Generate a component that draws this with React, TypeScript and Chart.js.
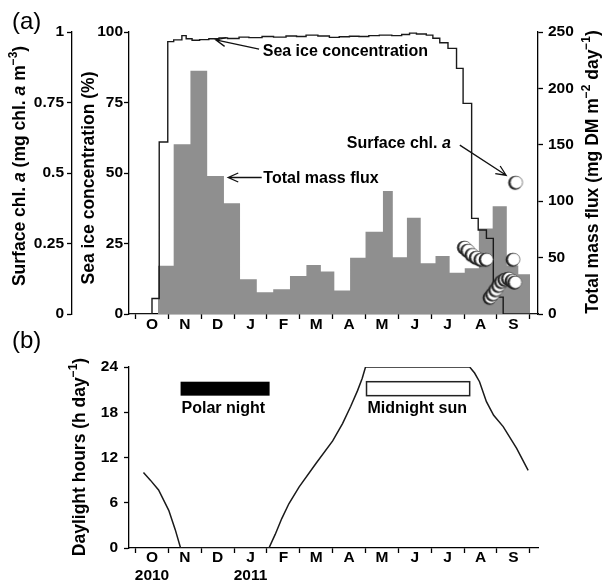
import React, { useEffect, useRef } from 'react';
import { Chart, registerables } from 'chart.js';
Chart.register(...registerables);

const FONT = '"Liberation Sans", Arial, Helvetica, sans-serif';

// x unit: months since 1 Oct 2010
const monthLabels = ['O', 'N', 'D', 'J', 'F', 'M', 'A', 'M', 'J', 'J', 'A', 'S'];
const yearLabels = ['2010', '', '', '2011', '', '', '', '', '', '', '', ''];

// Sediment trap bins (edges) and total mass flux (mg DM m-2 day-1)
const fluxBinEdges = [0.68, 1.16, 1.67, 2.18, 2.69, 3.18, 3.69, 4.19, 4.70, 5.20, 5.64, 6.05, 6.53, 7.00, 7.53, 7.83, 8.26, 8.68, 9.13, 9.56, 10.02, 10.45, 10.87, 11.30, 11.65, 12.01];
const totalMassFlux = [42.8, 150.4, 215.7, 122.3, 98.1, 30.8, 19.2, 21.9, 33.7, 43.4, 37.7, 20.8, 49.9, 73, 109, 50.3, 85.4, 44.9, 51.4, 36.6, 40.5, 75.8, 95.5, 43, 35.2];

// Sea ice concentration (%) step changes
const seaIceStepStart = [-0.2, 0.50, 0.72, 0.98, 1.16, 1.41, 1.54, 1.72, 1.95, 2.23, 2.54, 2.80, 3.15, 3.45, 3.85, 4.20, 4.58, 4.90, 5.19, 5.55, 5.90, 6.20, 6.51, 6.80, 7.10, 7.42, 7.80, 8.10, 8.34, 8.55, 8.85, 9.05, 9.26, 9.51, 9.77, 9.97, 10.23, 10.43, 10.68, 10.89, 11.19];
const seaIceConc = [0, 5.5, 61, 96.6, 97.2, 98.7, 97.6, 97.1, 97.3, 97.6, 97.9, 97.7, 98.2, 98.0, 98.4, 98.2, 98.6, 98.4, 98.9, 98.6, 98.1, 98.3, 98.5, 98.4, 98.7, 98.9, 98.7, 99.1, 99.6, 99.3, 98.9, 97.8, 96.2, 94.2, 87.1, 74.7, 33.9, 29.8, 26.8, 6, 0];
const seaIceEnd = 12.25;

// Surface chlorophyll a (mg chl. a m-3)
const chlMonth = [10.02, 10.12, 10.25, 10.38, 10.52, 10.68, 10.80, 10.88, 10.97, 11.06, 11.15, 11.25, 11.36, 11.47, 11.55, 11.50, 11.58];
const chlValue = [0.236, 0.225, 0.21, 0.2, 0.193, 0.193, 0.058, 0.07, 0.085, 0.1, 0.114, 0.122, 0.126, 0.118, 0.112, 0.193, 0.466];

// Daylight hours (h day-1)
const daylightMonth = [0.24, 0.45, 0.70, 1.01, 1.21, 1.37, 4.06, 4.25, 4.45, 4.67, 4.98, 5.49, 6.00, 6.30, 6.55, 6.76, 6.90, 7.00, 10.17, 10.32, 10.47, 10.68, 10.90, 11.19, 11.60, 11.95];
const daylightHours = [10.0, 9.0, 7.7, 5.0, 2.4, 0, 0, 1.8, 3.9, 5.9, 8.1, 11.2, 14.2, 16.5, 18.8, 20.9, 22.5, 24, 24, 23.2, 22.05, 19.4, 17.6, 16.1, 13.2, 10.3];

// Polar night / midnight sun periods (months) and bar band (hours)
const polarNight = [1.37, 4.08];
const midnightSun = [7.03, 10.17];
const periodBand = [20.2, 22.05];

const X_MIN = -0.2;
const X_MAX = 12.25;

type Seg = { t: string; italic?: boolean; sup?: boolean };

function drawRich(ctx: CanvasRenderingContext2D, segs: Seg[], x: number, y: number, size: number, rotate: boolean, align: 'center' | 'left' = 'center') {
  ctx.save();
  ctx.translate(x, y);
  if (rotate) ctx.rotate(-Math.PI / 2);
  const fontFor = (s: Seg) => `${s.italic ? 'italic ' : ''}bold ${s.sup ? size * 0.68 : size}px ${FONT}`;
  let total = 0;
  for (const s of segs) { ctx.font = fontFor(s); total += ctx.measureText(s.t).width; }
  let cx = align === 'center' ? -total / 2 : 0;
  ctx.textBaseline = 'middle';
  ctx.textAlign = 'left';
  ctx.fillStyle = '#000';
  for (const s of segs) {
    ctx.font = fontFor(s);
    ctx.fillText(s.t, cx, s.sup ? -size * 0.36 : 0);
    cx += ctx.measureText(s.t).width;
  }
  ctx.restore();
}

function arrow(ctx: CanvasRenderingContext2D, x1: number, y1: number, x2: number, y2: number) {
  ctx.save();
  ctx.strokeStyle = '#111';
  ctx.lineWidth = 1.3;
  ctx.beginPath();
  ctx.moveTo(x1, y1);
  ctx.lineTo(x2, y2);
  const a = Math.atan2(y2 - y1, x2 - x1);
  const L = 11, w = 0.42;
  ctx.moveTo(x2 - L * Math.cos(a - w), y2 - L * Math.sin(a - w));
  ctx.lineTo(x2, y2);
  ctx.lineTo(x2 - L * Math.cos(a + w), y2 - L * Math.sin(a + w));
  ctx.stroke();
  ctx.restore();
}

function makeBall(r: number) {
  const c = document.createElement('canvas');
  const s = Math.ceil(2 * r + 5);
  c.width = s; c.height = s;
  const g = c.getContext('2d')!;
  g.beginPath();
  g.arc(s / 2 - 0.8, s / 2 + 0.3, r, 0, Math.PI * 2);
  g.fillStyle = '#222';
  g.fill();
  g.beginPath();
  g.arc(s / 2 + 0.5, s / 2 - 0.2, r - 0.9, 0, Math.PI * 2);
  g.fillStyle = '#fff';
  g.fill();
  g.lineWidth = 0.7;
  g.strokeStyle = '#555';
  g.stroke();
  return c;
}

const xTickValues: number[] = [];
for (let i = 0; i <= monthLabels.length; i++) {
  xTickValues.push(i);
  if (i < monthLabels.length) xTickValues.push(i + 0.5);
}

export default function App() {
  const refA = useRef<HTMLCanvasElement>(null);
  const refB = useRef<HTMLCanvasElement>(null);

  useEffect(() => {
    Chart.defaults.color = '#000';
    Chart.defaults.font.family = FONT;
    const ball = makeBall(7);
    const tickFont = { family: FONT, size: 15.5, weight: 'bold' as const, lineHeight: 1.15 };
    const border = { display: true, color: '#000', width: 1.3 };

    const makeX = (height: number, withYears: boolean, pad: number) => ({
      type: 'linear' as const,
      min: X_MIN,
      max: X_MAX,
      afterBuildTicks: (s: any) => { s.ticks = xTickValues.map((v) => ({ value: v })); },
      afterFit: (s: any) => { s.height = height; },
      ticks: {
        autoSkip: false,
        maxRotation: 0,
        padding: pad,
        font: tickFont,
        color: '#000',
        callback: (v: any) => {
          const n = Number(v);
          if (Number.isInteger(n)) return '';
          const i = Math.floor(n);
          if (withYears && yearLabels[i]) return [monthLabels[i], yearLabels[i]];
          return monthLabels[i];
        },
      },
      grid: {
        drawOnChartArea: false,
        drawTicks: true,
        tickLength: 5,
        tickWidth: 1.3,
        tickColor: (c: any) => (c.tick && Number.isInteger(c.tick.value) ? '#000' : 'rgba(0,0,0,0)'),
      },
      border,
    });

    const yAxis = (pos: 'left' | 'right', min: number, max: number, step: number, width: number, pad: number, weight: number) => ({
      type: 'linear' as const,
      position: pos,
      min, max,
      weight,
      afterFit: (s: any) => { s.width = width; },
      ticks: { stepSize: step, font: tickFont, color: '#000', padding: pad, callback: (v: any) => String(Number(v)) },
      grid: { drawOnChartArea: false, drawTicks: true, tickLength: 5, tickWidth: 1.3, tickColor: '#000' },
      border,
    });

    const fluxPoints = fluxBinEdges.map((e, i) => ({ x: e, y: totalMassFlux[Math.min(i, totalMassFlux.length - 1)] }));
    const icePoints = seaIceStepStart.map((s, i) => ({ x: s, y: seaIceConc[i] }));
    icePoints.push({ x: seaIceEnd, y: seaIceConc[seaIceConc.length - 1] });
    const chlPoints = chlMonth.map((m, i) => ({ x: m, y: chlValue[i] }));
    const dayPoints = daylightMonth.map((m, i) => ({ x: m, y: daylightHours[i] }));

    const annA = {
      id: 'annA',
      afterDraw(chart: any) {
        const ctx: CanvasRenderingContext2D = chart.ctx;
        const x = chart.scales.x;
        const y = chart.scales.ySea;
        const px = (m: number) => x.getPixelForValue(m);
        const py = (v: number) => y.getPixelForValue(v);
        ctx.save();
        ctx.fillStyle = '#000';
        ctx.font = `24px ${FONT}`;
        ctx.textBaseline = 'middle';
        ctx.textAlign = 'left';
        ctx.fillText('(a)', 12, 22);
        ctx.restore();
        // axis titles
        drawRich(ctx, [{ t: 'Surface chl. ' }, { t: 'a', italic: true }, { t: ' (mg chl. ' }, { t: 'a', italic: true }, { t: ' m' }, { t: '−3', sup: true }, { t: ')' }], 20, 166, 17.5, true);
        drawRich(ctx, [{ t: 'Sea ice concentration (%)' }], 89, 178, 17.5, true);
        drawRich(ctx, [{ t: 'Total mass flux (mg DM m' }, { t: '−2', sup: true }, { t: ' day' }, { t: '−1', sup: true }, { t: ')' }], 593, 172, 17.5, true);
        // annotations
        arrow(ctx, px(3.76), py(93.9), px(2.44), py(97.2));
        drawRich(ctx, [{ t: 'Sea ice concentration' }], px(3.87), py(93.0), 16, false, 'left');
        arrow(ctx, px(3.84), py(48.4), px(2.82), py(48.4));
        drawRich(ctx, [{ t: 'Total mass flux' }], px(3.89), py(48.1), 16, false, 'left');
        drawRich(ctx, [{ t: 'Surface chl. ' }, { t: 'a', italic: true }], px(6.43), py(60.3), 16, false, 'left');
        arrow(ctx, px(9.87), py(59.9), px(11.28), py(49.2));
      },
    };

    const annB = {
      id: 'annB',
      afterDraw(chart: any) {
        const ctx: CanvasRenderingContext2D = chart.ctx;
        const x = chart.scales.x;
        const y = chart.scales.y;
        const px = (m: number) => x.getPixelForValue(m);
        const py = (v: number) => y.getPixelForValue(v);
        ctx.save();
        ctx.fillStyle = '#000';
        ctx.font = `24px ${FONT}`;
        ctx.textBaseline = 'middle';
        ctx.textAlign = 'left';
        ctx.fillText('(b)', 12, 341);
        ctx.restore();
        drawRich(ctx, [{ t: 'Daylight hours (h day' }, { t: '−1', sup: true }, { t: ')' }], 80, 457, 17.5, true);
        ctx.save();
        ctx.fillStyle = '#000';
        ctx.fillRect(px(polarNight[0]), py(periodBand[1]), px(polarNight[1]) - px(polarNight[0]), py(periodBand[0]) - py(periodBand[1]));
        ctx.fillStyle = '#fff';
        ctx.strokeStyle = '#222';
        ctx.lineWidth = 1.5;
        ctx.fillRect(px(midnightSun[0]), py(periodBand[1]), px(midnightSun[1]) - px(midnightSun[0]), py(periodBand[0]) - py(periodBand[1]));
        ctx.strokeRect(px(midnightSun[0]), py(periodBand[1]), px(midnightSun[1]) - px(midnightSun[0]), py(periodBand[0]) - py(periodBand[1]));
        ctx.restore();
        drawRich(ctx, [{ t: 'Polar night' }], px(polarNight[0]) + 1, py(18.5), 16, false, 'left');
        drawRich(ctx, [{ t: 'Midnight sun' }], px(midnightSun[0]) + 1, py(18.5), 16, false, 'left');
      },
    };

    const common = {
      responsive: false,
      animation: false as const,
      events: [] as any[],
      plugins: { legend: { display: false }, tooltip: { enabled: false } },
    };

    const chartA = new Chart(refA.current!, {
      type: 'line',
      data: {
        datasets: [
          {
            data: chlPoints, yAxisID: 'yChl', showLine: false, order: 0,
            pointStyle: ball as any, pointRadius: 7, borderColor: '#000', backgroundColor: '#fff',
          } as any,
          {
            data: icePoints, yAxisID: 'ySea', stepped: true, fill: false, order: 1,
            borderColor: '#1a1a1a', borderWidth: 1.4, pointRadius: 0,
          },
          {
            data: fluxPoints, yAxisID: 'yFlux', stepped: true, fill: 'origin', order: 2,
            backgroundColor: '#8f8f8f', borderColor: 'rgba(0,0,0,0)', borderWidth: 0, pointRadius: 0,
          },
        ],
      },
      options: {
        ...common,
        layout: { padding: { top: 32, left: 0, right: 0, bottom: 586 - 314 - 26 } },
        scales: {
          x: makeX(26, false, -3) as any,
          yChl: yAxis('left', 0, 1, 0.25, 72, 3, 2) as any,
          ySea: yAxis('left', 0, 100, 25, 57, 1, 1) as any,
          yFlux: yAxis('right', 0, 250, 50, 66, 5, 1) as any,
        },
      },
      plugins: [annA],
    });

    const chartB = new Chart(refB.current!, {
      type: 'line',
      data: {
        datasets: [
          {
            data: dayPoints, borderColor: '#1a1a1a', borderWidth: 1.5, pointRadius: 0, tension: 0, fill: false,
          },
        ],
      },
      options: {
        ...common,
        layout: { padding: { top: 367, left: 0, right: 66, bottom: 0 } },
        scales: {
          x: makeX(586 - 548, true, -4) as any,
          y: yAxis('left', 0, 24, 6, 129, 6, 1) as any,
        },
      },
      plugins: [annB],
    });

    return () => {
      chartA.destroy();
      chartB.destroy();
    };
  }, []);

  return (
    <div style={{ position: 'absolute', left: 0, top: 0, width: 604, height: 586, background: '#fff' }}>
      <canvas ref={refA} width={604} height={586} style={{ position: 'absolute', left: 0, top: 0, width: 604, height: 586 }} />
      <canvas ref={refB} width={604} height={586} style={{ position: 'absolute', left: 0, top: 0, width: 604, height: 586 }} />
    </div>
  );
}
